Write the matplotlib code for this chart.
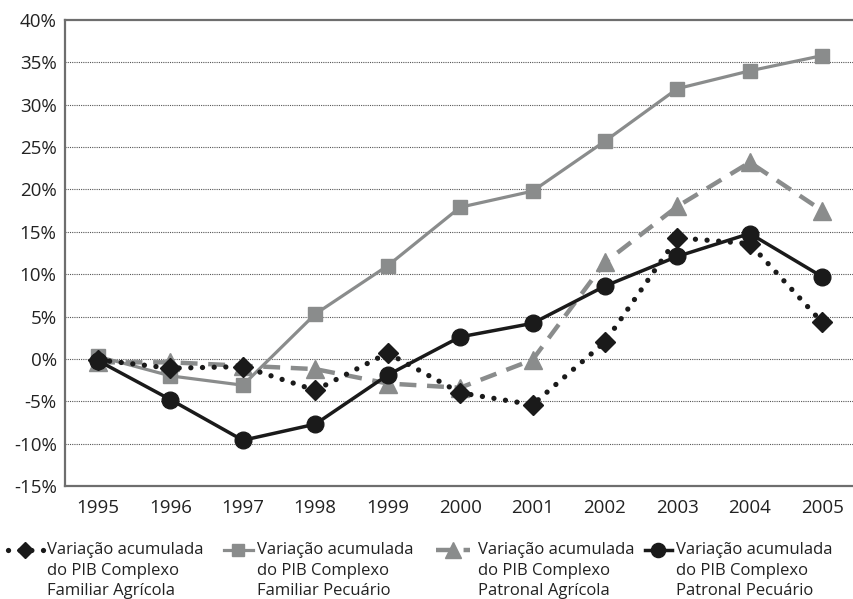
import numpy as np
import matplotlib
matplotlib.use('Agg')
import matplotlib.pyplot as plt
from matplotlib.lines import Line2D

plt.rcParams['font.family'] = ['Open Sans', 'DejaVu Sans']

# Data (cumulative % variation)
years = ['1995', '1996', '1997', '1998', '1999', '2000', '2001', '2002', '2003', '2004', '2005']
familiar_agricola = [-0.1, -1.1, -0.9, -3.7, 0.7, -4.0, -5.4, 2.0, 14.3, 13.6, 4.3]
familiar_pecuario = [0.3, -2.0, -3.1, 5.3, 11.0, 17.9, 19.8, 25.7, 31.9, 34.0, 35.8]
patronal_agricola = [-0.4, -0.4, -0.8, -1.2, -2.9, -3.4, -0.1, 11.4, 18.0, 23.2, 17.5]
patronal_pecuario = [-0.2, -4.8, -9.6, -7.7, -1.9, 2.6, 4.2, 8.6, 12.1, 14.8, 9.7]

labels = [
    'Variação acumulada\ndo PIB Complexo\nFamiliar Agrícola',
    'Variação acumulada\ndo PIB Complexo\nFamiliar Pecuário',
    'Variação acumulada\ndo PIB Complexo\nPatronal Agrícola',
    'Variação acumulada\ndo PIB Complexo\nPatronal Pecuário',
]

black = '#1a1a1a'
grey = '#8a8c8c'

styles = [
    dict(color=black, linestyle=(0, (0.01, 2.2)), linewidth=3.8, dash_capstyle='round',
         marker='D', markersize=10),
    dict(color=grey, linestyle='-', linewidth=2.3, marker='s', markersize=10.5),
    dict(color=grey, linestyle=(0, (3.8, 2.4)), linewidth=3.2, marker='^', markersize=13),
    dict(color=black, linestyle='-', linewidth=2.5, marker='o', markersize=12),
]
series = [familiar_agricola, familiar_pecuario, patronal_agricola, patronal_pecuario]
zorders = [5, 3, 4, 6]

fig = plt.figure(figsize=(8.54, 5.99), dpi=100)
ax = fig.add_axes([0.0761, 0.1886, 0.924, 0.778])

x = np.arange(len(years))
for vals, st, z in zip(series, styles, zorders):
    ax.plot(x, vals, zorder=z, **st)

ax.set_xlim(-0.456, 10.44)
ax.set_ylim(-15, 40)
yt = np.arange(-15, 41, 5)
ax.set_yticks(yt)
ax.set_yticklabels([f'{v}%' for v in yt])
ax.set_xticks(x)
ax.set_xticklabels(years)
ax.tick_params(axis='both', length=0, labelsize=13.5, colors='#222222', pad=6)
ax.tick_params(axis='x', pad=9)

for v in yt[1:-1]:
    ax.axhline(v, color='#555555', linestyle=(0, (1, 1)), linewidth=0.8, zorder=1)

for s in ['left', 'top', 'bottom']:
    ax.spines[s].set_color('#6e6e6e')
    ax.spines[s].set_linewidth(1.6)
ax.spines['right'].set_visible(False)

# Manual legend at the bottom
W, H = 854.0, 599.0
handle_spans = [(8, 43), (224, 253), (436, 470), (645, 672)]
text_x = [47, 257, 478, 676]
y_line = 550
for (x0, x1), tx, st, lab in zip(handle_spans, text_x, styles, labels):
    ln = Line2D([x0 / W, x1 / W], [1 - y_line / H, 1 - y_line / H],
                transform=fig.transFigure, **{k: v for k, v in st.items() if k not in ('marker', 'markersize')})
    fig.add_artist(ln)
    mk = Line2D([(x0 + x1) / 2 / W], [1 - y_line / H], transform=fig.transFigure,
                color=st['color'], marker=st['marker'], markersize=st['markersize'] * 0.85,
                linestyle='none')
    fig.add_artist(mk)
    fig.text(tx / W, 1 - (y_line - 8) / H, lab, ha='left', va='top', fontsize=12,
             color='#222222', linespacing=1.38)

fig.savefig('out.png', dpi=100)
